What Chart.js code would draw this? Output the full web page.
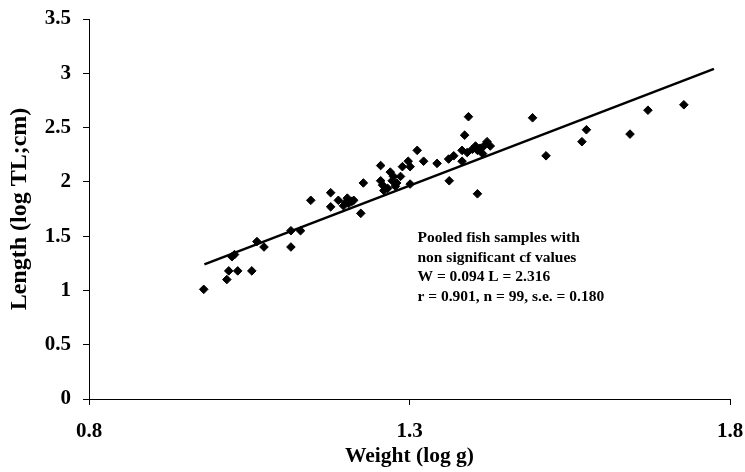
<!doctype html>
<html lang="en">
<head>
	<meta charset="utf-8">
	<title>Length-weight</title>
	<style>
		* { margin: 0; padding: 0; }
		body { background: #fff; }
		.chartBox { width: 745px; height: 472px; position: relative; }
	</style>
</head>
<body>
	<div class="chartBox">
		<canvas id="lwChart"></canvas>
	</div>
	<script src="https://cdn.jsdelivr.net/npm/chart.js"></script>
	<script>
		// log weight (x) and log length (y) of the pooled samples
		const weight = [
			0.979, 1.015, 1.018, 1.032, 1.054, 1.023, 1.027, 1.062, 1.073, 1.115,
			1.130, 1.115, 1.146, 1.177, 1.177, 1.189, 1.203, 1.205, 1.213, 1.197,
			1.224, 1.228, 1.255, 1.255, 1.258, 1.266, 1.270, 1.273, 1.278, 1.275,
			1.286, 1.289, 1.301, 1.301, 1.298, 1.312, 1.322, 1.343, 1.361, 1.362,
			1.369, 1.382, 1.382, 1.386, 1.392, 1.398, 1.403, 1.406, 1.414, 1.416,
			1.421, 1.426, 1.406, 1.492, 1.513, 1.569, 1.576, 1.644, 1.672, 1.728,
			1.200, 1.210, 1.260, 1.280, 1.390, 1.410
		]
		const length = [
			1.01, 1.10, 1.18, 1.18, 1.18, 1.31, 1.33, 1.45, 1.40, 1.55,
			1.55, 1.40, 1.83, 1.90, 1.77, 1.83, 1.85, 1.80, 1.83, 1.78,
			1.71, 1.99, 2.15, 2.01, 1.97, 1.94, 2.09, 2.01, 1.96, 2.05,
			2.05, 2.14, 2.14, 1.98, 2.19, 2.29, 2.19, 2.17, 2.21, 2.01,
			2.24, 2.29, 2.19, 2.43, 2.60, 2.30, 2.33, 2.29, 2.26, 2.33,
			2.37, 2.33, 1.89, 2.59, 2.24, 2.37, 2.48, 2.44, 2.66, 2.71,
			1.81, 1.82, 1.92, 1.99, 2.27, 2.31
		]
		// fitted line end points
		const fitX = [0.98, 1.775]
		const fitY = [1.24, 3.04]

		const xTicks = [0.8, 1.3, 1.8]
		const noteLines = [
			'Pooled fish samples with',
			'non significant cf values',
			'W = 0.094 L = 2.316',
			'r = 0.901, n = 99, s.e. = 0.180'
		]

		const serif = "'Liberation Serif', 'Times New Roman', serif"

		// text block inside the plot
		const notePlugin = {
			id: 'note',
			afterDatasetsDraw(chart) {
				const c = chart.ctx
				const xs = chart.scales.x
				const ys = chart.scales.y
				c.save()
				c.fillStyle = '#000'
				c.font = 'bold 15.5px ' + serif
				c.textBaseline = 'middle'
				const x0 = xs.getPixelForValue(1.3) + 8
				const y0 = ys.top + 219
				noteLines.forEach((t, i) => c.fillText(t, x0, y0 + i * 19.5))
				c.restore()
			}
		}

		const data = {
			datasets: [
				{
					type: 'scatter',
					data: weight.map((w, i) => ({ x: w, y: length[i] })),
					pointStyle: 'rectRot',
					radius: 4.3,
					backgroundColor: '#000',
					borderColor: '#000',
					borderWidth: 1,
				}, {
					type: 'line',
					data: fitX.map((v, i) => ({ x: v, y: fitY[i] })),
					borderColor: '#000',
					borderWidth: 2.5,
					pointRadius: 0,
					fill: false,
				}
			]
		}

		const config = {
			type: 'scatter',
			data: data,
			options: {
				responsive: true,
				maintainAspectRatio: false,
				animation: false,
				layout: { padding: { top: 19, right: 15, left: 0, bottom: 0 } },
				plugins: {
					legend: { display: false },
					tooltip: { enabled: false }
				},
				scales: {
					x: {
						type: 'linear',
						min: 0.8,
						max: 1.8,
						afterBuildTicks: (s) => { s.ticks = xTicks.map(v => ({ value: v })) },
						afterFit: (s) => {
							s.height = 73
							s.paddingLeft = 0
							s.paddingRight = 0
						},
						border: { color: '#000', width: 1 },
						grid: { drawOnChartArea: false, color: '#000', tickLength: 6 },
						ticks: {
							color: '#000',
							padding: 14,
							maxRotation: 0,
							font: { family: serif, size: 21, weight: 'bold' },
							callback: (v) => v.toFixed(1)
						},
						title: {
							display: true,
							text: 'Weight (log g)',
							color: '#000',
							font: { family: serif, size: 21.5, weight: 'bold' },
							padding: { top: 0, bottom: 3 }
						}
					},
					y: {
						min: 0,
						max: 3.5,
						afterFit: (s) => {
							s.width = 89
							s.paddingTop = 0
							s.paddingBottom = 0
						},
						border: { color: '#000', width: 1 },
						grid: { drawOnChartArea: false, color: '#000', tickLength: 6 },
						ticks: {
							stepSize: 0.5,
							color: '#000',
							padding: 12,
							font: { family: serif, size: 21, weight: 'bold' },
							callback: (v) => String(v)
						},
						title: {
							display: true,
							text: 'Length (log TL;cm)',
							color: '#000',
							font: { family: serif, size: 24, weight: 'bold' },
							padding: { top: 5, bottom: 0 }
						}
					}
				}
			},
			plugins: [notePlugin]
		}

		const lwChart = new Chart(document.getElementById('lwChart'), config)
	</script>
</body>
</html>
